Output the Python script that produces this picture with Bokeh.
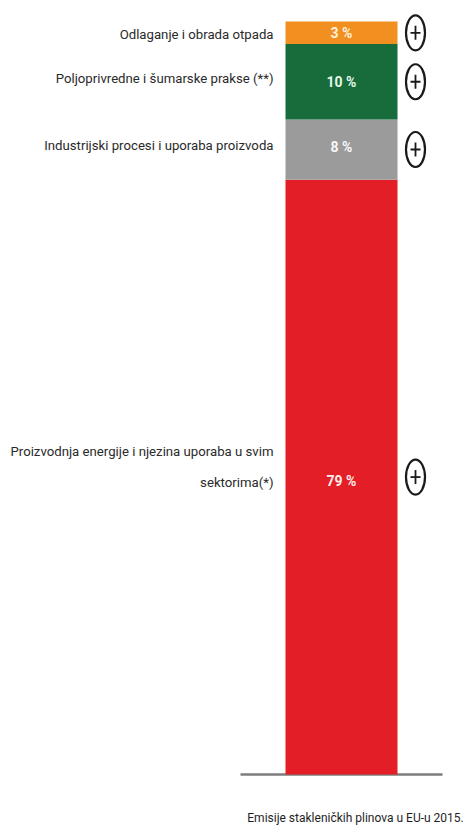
import numpy as np
from bokeh.plotting import figure, ColumnDataSource
from bokeh.models import Range1d, Label
from bokeh.core.properties import value
from bokeh.embed import file_html
from bokeh.resources import INLINE

# ---- data (bottom of the stack first) ----
categories = [
    "Proizvodnja energije i njezina uporaba u svim\nsektorima(*)",
    "Industrijski procesi i uporaba proizvoda",
    "Poljoprivredne i šumarske prakse (**)",
    "Odlaganje i obrada otpada",
]
shares = [79, 8, 10, 3]
share_labels = ["79 %", "8 %", "10 %", "3 %"]
bar_colors = ["#E31E26", "#9B9B9B", "#186B3A", "#F18F21"]
share_text_colors = ["#FFECEC", "#F7F7F7", "#E2F7E8", "#FFF1DC"]
chart_title = "Emisije stakleničkih plinova u EU-u 2015."

FONT = "Roboto"
TEXT_COLOR = "#2A2A2A"

W, H = 469, 830
PX_PER_UNIT = 7.53          # vertical pixels per percentage point
BOTTOM_PX, TOP_PX = 56, 21  # pixel margins below 0 % and above 100 %

tops = np.cumsum(shares)
bottoms = tops - np.array(shares)
mids = (tops + bottoms) / 2.0

src = ColumnDataSource(dict(
    cat=categories, share=shares, lab=share_labels,
    color=bar_colors, tcolor=share_text_colors,
    bottom=bottoms, top=tops, mid=mids,
    cat_off=[-10, -4, -3, 2],
    lab_off=[4, -3, 0, 0],
))

p = figure(width=W, height=H, output_backend="svg", toolbar_location=None,
           x_range=Range1d(0, W),
           y_range=Range1d(-BOTTOM_PX / PX_PER_UNIT, tops[-1] + TOP_PX / PX_PER_UNIT),
           min_border=0, outline_line_color=None)
p.axis.visible = False
p.grid.visible = False
p.background_fill_color = "white"
p.border_fill_color = "white"

# baseline
p.segment(x0=[240], x1=[442], y0=[0], y1=[0], line_color="#7D7D7D", line_width=2.5)

# stacked bar
p.vbar(x=341, width=112, bottom="bottom", top="top", source=src,
       fill_color="color", line_color=None)

# percentage labels inside the bar
p.text(x=341, y="mid", text="lab", source=src, text_font=value(FONT),
       text_font_style="bold", text_font_size="14px", text_color="tcolor",
       text_align="center", text_baseline="middle", y_offset="lab_off")

# category labels on the left
p.text(x=273, y="mid", text="cat", source=src, text_font=value(FONT),
       text_font_size="13.2px", text_color=TEXT_COLOR, text_align="right",
       text_baseline="middle", text_line_height=2.1, y_offset="cat_off")

# (+) icons on the right
p.ellipse(x=415, y="mid", width=19, height=35, width_units="screen",
          height_units="screen", source=src, fill_color=None,
          line_color="#1A1A1A", line_width=2.2)
half_v = 7 / PX_PER_UNIT
p.segment(x0=415, x1=415, y0=mids - half_v, y1=mids + half_v,
          line_color="#1A1A1A", line_width=1.8)
p.segment(x0=410, x1=420, y0=mids, y1=mids, line_color="#1A1A1A", line_width=1.8)

# caption under the bar
p.add_layout(Label(x=355, y=13, x_units="screen", y_units="screen",
                   text=chart_title, text_font=FONT, text_font_size="12px",
                   text_color="#1E1E1E", text_align="center",
                   text_baseline="middle"))

open("out.html", "w").write(file_html(p, INLINE))
